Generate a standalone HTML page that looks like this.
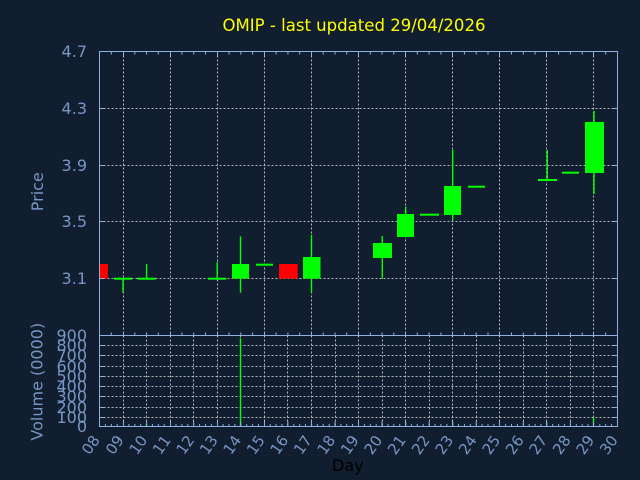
<!DOCTYPE html>
<html>
<head>
<meta charset="utf-8">
<style>
html,body{margin:0;padding:0;background:#101e2f;}
svg{display:block;}
text{font-family:"DejaVu Sans","Liberation Sans",sans-serif;}
</style>
</head>
<body>
<svg width="640" height="480" viewBox="0 0 640 480" xmlns="http://www.w3.org/2000/svg">
<rect x="0" y="0" width="640" height="480" fill="#101e2f"/>

<!-- Title -->
<text x="222.5" y="31" font-size="16.5" fill="#ffff00" textLength="263" lengthAdjust="spacingAndGlyphs">OMIP - last updated 29/04/2026</text>

<!-- Price grid horizontal -->
<g stroke="#b8b8b8" stroke-width="1" stroke-dasharray="2,2" fill="none">
  <line x1="99.5" y1="278.5" x2="617.5" y2="278.5"/>
  <line x1="99.5" y1="221.5" x2="617.5" y2="221.5"/>
  <line x1="99.5" y1="165.5" x2="617.5" y2="165.5"/>
  <line x1="99.5" y1="108.5" x2="617.5" y2="108.5"/>
  <!-- price vertical grid at odd days -->
  <line x1="123.5" y1="51.5" x2="123.5" y2="335.5"/>
  <line x1="170.5" y1="51.5" x2="170.5" y2="335.5"/>
  <line x1="217.5" y1="51.5" x2="217.5" y2="335.5"/>
  <line x1="264.5" y1="51.5" x2="264.5" y2="335.5"/>
  <line x1="311.5" y1="51.5" x2="311.5" y2="335.5"/>
  <line x1="358.5" y1="51.5" x2="358.5" y2="335.5"/>
  <line x1="405.5" y1="51.5" x2="405.5" y2="335.5"/>
  <line x1="452.5" y1="51.5" x2="452.5" y2="335.5"/>
  <line x1="499.5" y1="51.5" x2="499.5" y2="335.5"/>
  <line x1="546.5" y1="51.5" x2="546.5" y2="335.5"/>
  <line x1="593.5" y1="51.5" x2="593.5" y2="335.5"/>
  <!-- volume horizontal grid -->
  <line x1="99.5" y1="417.5" x2="617.5" y2="417.5"/>
  <line x1="99.5" y1="407.5" x2="617.5" y2="407.5"/>
  <line x1="99.5" y1="396.5" x2="617.5" y2="396.5"/>
  <line x1="99.5" y1="386.5" x2="617.5" y2="386.5"/>
  <line x1="99.5" y1="376.5" x2="617.5" y2="376.5"/>
  <line x1="99.5" y1="366.5" x2="617.5" y2="366.5"/>
  <line x1="99.5" y1="355.5" x2="617.5" y2="355.5"/>
  <line x1="99.5" y1="345.5" x2="617.5" y2="345.5"/>
  <!-- volume vertical grid every day -->
  <line x1="123.5" y1="335.5" x2="123.5" y2="426.5"/>
  <line x1="146.5" y1="335.5" x2="146.5" y2="426.5"/>
  <line x1="170.5" y1="335.5" x2="170.5" y2="426.5"/>
  <line x1="193.5" y1="335.5" x2="193.5" y2="426.5"/>
  <line x1="217.5" y1="335.5" x2="217.5" y2="426.5"/>
  <line x1="240.5" y1="335.5" x2="240.5" y2="426.5"/>
  <line x1="264.5" y1="335.5" x2="264.5" y2="426.5"/>
  <line x1="287.5" y1="335.5" x2="287.5" y2="426.5"/>
  <line x1="311.5" y1="335.5" x2="311.5" y2="426.5"/>
  <line x1="335.5" y1="335.5" x2="335.5" y2="426.5"/>
  <line x1="358.5" y1="335.5" x2="358.5" y2="426.5"/>
  <line x1="382.5" y1="335.5" x2="382.5" y2="426.5"/>
  <line x1="405.5" y1="335.5" x2="405.5" y2="426.5"/>
  <line x1="429.5" y1="335.5" x2="429.5" y2="426.5"/>
  <line x1="452.5" y1="335.5" x2="452.5" y2="426.5"/>
  <line x1="476.5" y1="335.5" x2="476.5" y2="426.5"/>
  <line x1="499.5" y1="335.5" x2="499.5" y2="426.5"/>
  <line x1="523.5" y1="335.5" x2="523.5" y2="426.5"/>
  <line x1="546.5" y1="335.5" x2="546.5" y2="426.5"/>
  <line x1="570.5" y1="335.5" x2="570.5" y2="426.5"/>
  <line x1="593.5" y1="335.5" x2="593.5" y2="426.5"/>
</g>

<!-- Candles -->
<g fill="#00ff00" stroke="none">
  <!-- day 09 -->
  <rect x="114" y="277.7" width="18" height="2"/>
  <rect x="122.3" y="278.7" width="1.4" height="14"/>
  <!-- day 10 -->
  <rect x="137.6" y="277.7" width="18" height="2"/>
  <rect x="145.9" y="264" width="1.4" height="14.7"/>
  <!-- day 13 -->
  <rect x="208.2" y="277.7" width="18" height="2"/>
  <rect x="216.5" y="262.3" width="1.4" height="16.4"/>
  <!-- day 14 -->
  <rect x="239.8" y="236.3" width="1.4" height="56.4"/>
  <rect x="232" y="264" width="17" height="14.7"/>
  <!-- day 15 -->
  <rect x="256" y="263.7" width="17" height="2"/>
  <!-- day 17 -->
  <rect x="310.8" y="234.7" width="1.4" height="58"/>
  <rect x="303" y="257" width="17.5" height="21.7"/>
  <!-- day 20 -->
  <rect x="381.6" y="236" width="1.4" height="42.7"/>
  <rect x="373" y="243" width="19" height="15"/>
  <!-- day 21 -->
  <rect x="405" y="206.7" width="1.4" height="30.3"/>
  <rect x="397" y="214" width="17" height="23"/>
  <!-- day 22 -->
  <rect x="420" y="213.7" width="19" height="2"/>
  <!-- day 23 -->
  <rect x="452" y="150" width="1.4" height="69.7"/>
  <rect x="444" y="186" width="17" height="29"/>
  <!-- day 24 -->
  <rect x="468" y="185.7" width="17" height="2"/>
  <!-- day 27 -->
  <rect x="546.6" y="150" width="1.4" height="30"/>
  <rect x="538" y="179" width="19" height="2"/>
  <!-- day 28 -->
  <rect x="562" y="171.7" width="17" height="2"/>
  <!-- day 29 -->
  <rect x="593.3" y="111" width="1.4" height="83"/>
  <rect x="585" y="122" width="19" height="51"/>
</g>
<g fill="#ff0000">
  <rect x="99.5" y="264" width="8.5" height="14.7"/>
  <rect x="279" y="264" width="18.7" height="14.7"/>
</g>

<!-- Volume bars -->
<g stroke="#00ff00" stroke-width="1.4">
  <line x1="240.5" y1="338.3" x2="240.5" y2="426.5"/>
  <line x1="146.5" y1="424" x2="146.5" y2="426.5"/>
  <line x1="311.5" y1="424" x2="311.5" y2="426.5"/>
  <line x1="382.3" y1="424.5" x2="382.3" y2="426.5"/>
  <line x1="405.7" y1="422.3" x2="405.7" y2="426.5"/>
  <line x1="452.7" y1="422" x2="452.7" y2="426.5"/>
  <line x1="546.7" y1="422.3" x2="546.7" y2="426.5"/>
  <line x1="593.5" y1="417.7" x2="593.5" y2="426.5"/>
</g>

<!-- Frames -->
<g stroke="#8fb0dc" stroke-width="1" fill="none">
  <rect x="99.5" y="51.5" width="518" height="284"/>
  <rect x="99.5" y="335.5" width="518" height="91"/>
  <!-- price top ticks (half days) -->
  <path d="M111.3 51.5v3M123.5 51.5v4M134.8 51.5v3M146.6 51.5v3M158.3 51.5v3M170.5 51.5v4M181.9 51.5v3M193.7 51.5v3M205.5 51.5v3M217.5 51.5v4M229 51.5v3M240.8 51.5v3M252.6 51.5v3M264.5 51.5v4M276.1 51.5v3M287.9 51.5v3M299.7 51.5v3M311.5 51.5v4M323.2 51.5v3M335 51.5v3M346.7 51.5v3M358.5 51.5v4M370.3 51.5v3M382 51.5v3M393.8 51.5v3M405.5 51.5v4M417.3 51.5v3M429.1 51.5v3M440.9 51.5v3M452.5 51.5v4M464.4 51.5v3M476.2 51.5v3M488 51.5v3M499.5 51.5v4M511.5 51.5v3M523.3 51.5v3M535.1 51.5v3M546.5 51.5v4M558.6 51.5v3M570.4 51.5v3M582.2 51.5v3M593.5 51.5v4M605.7 51.5v3"/>
  <!-- price bottom ticks (upward) -->
  <path d="M111.3 335.5v-3M123.5 335.5v-4M134.8 335.5v-3M146.6 335.5v-3M158.3 335.5v-3M170.5 335.5v-4M181.9 335.5v-3M193.7 335.5v-3M205.5 335.5v-3M217.5 335.5v-4M229 335.5v-3M240.8 335.5v-3M252.6 335.5v-3M264.5 335.5v-4M276.1 335.5v-3M287.9 335.5v-3M299.7 335.5v-3M311.5 335.5v-4M323.2 335.5v-3M335 335.5v-3M346.7 335.5v-3M358.5 335.5v-4M370.3 335.5v-3M382 335.5v-3M393.8 335.5v-3M405.5 335.5v-4M417.3 335.5v-3M429.1 335.5v-3M440.9 335.5v-3M452.5 335.5v-4M464.4 335.5v-3M476.2 335.5v-3M488 335.5v-3M499.5 335.5v-4M511.5 335.5v-3M523.3 335.5v-3M535.1 335.5v-3M546.5 335.5v-4M558.6 335.5v-3M570.4 335.5v-3M582.2 335.5v-3M593.5 335.5v-4M605.7 335.5v-3"/>
  <!-- price left/right ticks -->
  <path d="M99.5 278.5h5M99.5 221.5h5M99.5 165.5h5M99.5 108.5h5M617.5 278.5h-5M617.5 221.5h-5M617.5 165.5h-5M617.5 108.5h-5"/>
  <!-- volume left/right ticks -->
  <path d="M99.5 417.5h5M99.5 407.5h5M99.5 396.5h5M99.5 386.5h5M99.5 376.5h5M99.5 366.5h5M99.5 355.5h5M99.5 345.5h5M617.5 417.5h-5M617.5 407.5h-5M617.5 396.5h-5M617.5 386.5h-5M617.5 376.5h-5M617.5 366.5h-5M617.5 355.5h-5M617.5 345.5h-5"/>
  <!-- volume bottom ticks (quarter days) -->
  <path d="M105.4 426.5v-2.5M111.3 426.5v-2.5M117.2 426.5v-2.5M123.5 426.5v-5M128.9 426.5v-2.5M134.8 426.5v-2.5M140.7 426.5v-2.5M146.6 426.5v-5M152.4 426.5v-2.5M158.3 426.5v-2.5M164.2 426.5v-2.5M170.5 426.5v-5M176 426.5v-2.5M181.9 426.5v-2.5M187.8 426.5v-2.5M193.7 426.5v-5M199.6 426.5v-2.5M205.5 426.5v-2.5M211.4 426.5v-2.5M217.5 426.5v-5M223.1 426.5v-2.5M229 426.5v-2.5M234.9 426.5v-2.5M240.8 426.5v-5M246.7 426.5v-2.5M252.6 426.5v-2.5M258.5 426.5v-2.5M264.5 426.5v-5M270.2 426.5v-2.5M276.1 426.5v-2.5M282 426.5v-2.5M287.9 426.5v-5M293.8 426.5v-2.5M299.7 426.5v-2.5M305.5 426.5v-2.5M311.5 426.5v-5M317.3 426.5v-2.5M323.2 426.5v-2.5M329.1 426.5v-2.5M335 426.5v-5M340.9 426.5v-2.5M346.7 426.5v-2.5M352.6 426.5v-2.5M358.5 426.5v-5M364.4 426.5v-2.5M370.3 426.5v-2.5M376.2 426.5v-2.5M382 426.5v-5M387.9 426.5v-2.5M393.8 426.5v-2.5M399.7 426.5v-2.5M405.5 426.5v-5M411.4 426.5v-2.5M417.3 426.5v-2.5M423.2 426.5v-2.5M429.1 426.5v-5M435 426.5v-2.5M440.9 426.5v-2.5M446.8 426.5v-2.5M452.5 426.5v-5M458.5 426.5v-2.5M464.4 426.5v-2.5M470.3 426.5v-2.5M476.2 426.5v-5M482.1 426.5v-2.5M488 426.5v-2.5M493.9 426.5v-2.5M499.5 426.5v-5M505.6 426.5v-2.5M511.5 426.5v-2.5M517.4 426.5v-2.5M523.3 426.5v-5M529.2 426.5v-2.5M535.1 426.5v-2.5M541 426.5v-2.5M546.5 426.5v-5M552.7 426.5v-2.5M558.6 426.5v-2.5M564.5 426.5v-2.5M570.4 426.5v-5M576.3 426.5v-2.5M582.2 426.5v-2.5M588.1 426.5v-2.5M593.5 426.5v-5M599.8 426.5v-2.5M605.7 426.5v-2.5M611.6 426.5v-2.5"/>
</g>

<!-- Price labels -->
<g font-size="16" fill="#7896c4" text-anchor="end">
  <text x="87" y="57">4.7</text>
  <text x="87" y="114">4.3</text>
  <text x="87" y="171">3.9</text>
  <text x="87" y="227">3.5</text>
  <text x="87" y="284">3.1</text>
</g>
<!-- Volume labels -->
<g font-size="16" fill="#7896c4" text-anchor="end">
  <text x="87" y="432">0</text>
  <text x="87" y="423">100</text>
  <text x="87" y="413">200</text>
  <text x="87" y="402">300</text>
  <text x="87" y="392">400</text>
  <text x="87" y="382">500</text>
  <text x="87" y="372">600</text>
  <text x="87" y="361">700</text>
  <text x="87" y="351">800</text>
  <text x="87" y="341">900</text>
</g>

<!-- Axis titles -->
<text transform="translate(43,191.7) rotate(-90)" font-size="16" fill="#7896c4" text-anchor="middle">Price</text>
<text transform="translate(42.5,381.7) rotate(-90)" font-size="16" fill="#7896c4" text-anchor="middle">Volume (0000)</text>
<text x="332" y="471" font-size="16" fill="#000000">Day</text>

<!-- X labels -->
<g font-size="15" fill="#7896c4" text-anchor="end">
  <text transform="translate(100.5,440) rotate(-55)">08</text>
  <text transform="translate(124.5,440) rotate(-55)">09</text>
  <text transform="translate(148,440) rotate(-55)">10</text>
  <text transform="translate(171.5,440) rotate(-55)">11</text>
  <text transform="translate(195,440) rotate(-55)">12</text>
  <text transform="translate(218.5,440) rotate(-55)">13</text>
  <text transform="translate(242,440) rotate(-55)">14</text>
  <text transform="translate(265.5,440) rotate(-55)">15</text>
  <text transform="translate(289,440) rotate(-55)">16</text>
  <text transform="translate(312.5,440) rotate(-55)">17</text>
  <text transform="translate(336,440) rotate(-55)">18</text>
  <text transform="translate(359.5,440) rotate(-55)">19</text>
  <text transform="translate(383,440) rotate(-55)">20</text>
  <text transform="translate(406.5,440) rotate(-55)">21</text>
  <text transform="translate(430.5,440) rotate(-55)">22</text>
  <text transform="translate(454,440) rotate(-55)">23</text>
  <text transform="translate(477.5,440) rotate(-55)">24</text>
  <text transform="translate(501,440) rotate(-55)">25</text>
  <text transform="translate(524.5,440) rotate(-55)">26</text>
  <text transform="translate(548,440) rotate(-55)">27</text>
  <text transform="translate(571.5,440) rotate(-55)">28</text>
  <text transform="translate(595,440) rotate(-55)">29</text>
  <text transform="translate(618.5,440) rotate(-55)">30</text>
</g>
</svg>
</body>
</html>
